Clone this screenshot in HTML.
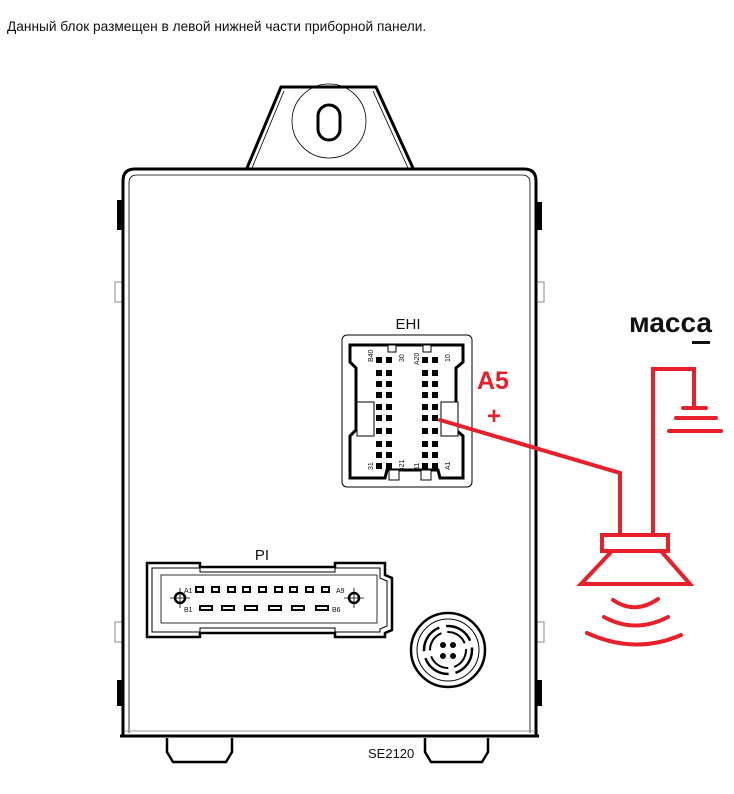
<!DOCTYPE html>
<html><head><meta charset="utf-8"><style>
html,body{margin:0;padding:0;background:#fff;width:734px;height:794px;overflow:hidden}
svg{display:block}
text{font-family:"Liberation Sans",Arial,sans-serif}
</style></head><body>
<svg width="734" height="794" viewBox="0 0 734 794" xmlns="http://www.w3.org/2000/svg">
<text x="7" y="31" font-size="13.7" fill="#111">Данный блок размещен в левой нижней части приборной панели.</text>

<!-- top tab -->
<path d="M247,168 L281,87 L376,87 L413,168" fill="#fff" stroke="#000" stroke-width="3"/>
<path d="M252,168 L284,91 M408,168 L373,91" stroke="#000" stroke-width="0.8" fill="none"/>
<circle cx="329" cy="121" r="37" fill="none" stroke="#000" stroke-width="0.8"/>
<rect x="318" y="105" width="22" height="35" rx="11" fill="none" stroke="#000" stroke-width="3"/>

<!-- side tabs -->
<rect x="117" y="200" width="6" height="30" fill="#000"/>
<rect x="536" y="202" width="6" height="28" fill="#000"/>
<rect x="115" y="282" width="8" height="20" fill="#fff" stroke="#888" stroke-width="1"/>
<rect x="536" y="282" width="8" height="20" fill="#fff" stroke="#888" stroke-width="1"/>
<rect x="115" y="622" width="8" height="20" fill="#fff" stroke="#888" stroke-width="1"/>
<rect x="536" y="622" width="8" height="20" fill="#fff" stroke="#888" stroke-width="1"/>
<rect x="117" y="680" width="6" height="26" fill="#000"/>
<rect x="536" y="680" width="6" height="26" fill="#000"/>

<!-- main body -->
<path d="M123,736 L123,181 Q123,169 135,169 L524,169 Q536,169 536,181 L536,736" fill="#fff" stroke="#000" stroke-width="3"/>
<path d="M129,733 L129,183 Q129,175 137,175 L522,175 Q530,175 530,183 L530,733" fill="none" stroke="#000" stroke-width="0.8"/>
<line x1="120" y1="736" x2="539" y2="736" stroke="#000" stroke-width="3"/>
<line x1="124" y1="731" x2="535" y2="731" stroke="#999" stroke-width="1"/>

<!-- feet -->
<path d="M167,738 L167,752 L173,762 L226,762 L232,752 L232,738" fill="#fff" stroke="#000" stroke-width="2.5"/>
<path d="M425,738 L425,752 L431,762 L482,762 L488,752 L488,738" fill="#fff" stroke="#000" stroke-width="2.5"/>
<text x="368" y="758" font-size="13" fill="#111">SE2120</text>

<!-- EHI connector -->
<text x="408" y="329" font-size="15" text-anchor="middle" fill="#111">EHI</text>
<rect x="342" y="335" width="130" height="152" rx="5" fill="#fff" stroke="#000" stroke-width="1"/>
<path d="M350,345 L463,345 L463,362 L456,368 L456,430 L463,436 L463,478 L440,478 L438,470 L387,470 L385,478 L350,478 L350,436 L356,430 L356,368 L350,362 Z" fill="none" stroke="#000" stroke-width="3"/>
<rect x="388" y="345" width="8" height="7" fill="#fff" stroke="#000" stroke-width="1"/>
<rect x="423" y="345" width="8" height="7" fill="#fff" stroke="#000" stroke-width="1"/>
<rect x="357" y="402" width="17" height="34" fill="#fff" stroke="#000" stroke-width="1"/>
<rect x="441" y="402" width="17" height="34" fill="#fff" stroke="#000" stroke-width="1"/>
<rect x="389" y="470" width="10" height="10" fill="#fff" stroke="#000" stroke-width="1"/>
<rect x="421" y="470" width="10" height="10" fill="#fff" stroke="#000" stroke-width="1"/>
<g fill="#000">
<rect x="376" y="357" width="6" height="6"/><rect x="386" y="357" width="6" height="6"/><rect x="422" y="357" width="6" height="6"/><rect x="432" y="357" width="6" height="6"/>
<rect x="376" y="370" width="6" height="6"/><rect x="386" y="370" width="6" height="6"/><rect x="422" y="370" width="6" height="6"/><rect x="432" y="370" width="6" height="6"/>
<rect x="376" y="381" width="6" height="6"/><rect x="386" y="381" width="6" height="6"/><rect x="422" y="381" width="6" height="6"/><rect x="432" y="381" width="6" height="6"/>
<rect x="376" y="392" width="6" height="6"/><rect x="386" y="392" width="6" height="6"/><rect x="422" y="392" width="6" height="6"/><rect x="432" y="392" width="6" height="6"/>
<rect x="376" y="404" width="6" height="6"/><rect x="386" y="404" width="6" height="6"/><rect x="422" y="404" width="6" height="6"/><rect x="432" y="404" width="6" height="6"/>
<rect x="376" y="415" width="6" height="6"/><rect x="386" y="415" width="6" height="6"/><rect x="422" y="415" width="6" height="6"/><rect x="432" y="415" width="6" height="6"/>
<rect x="376" y="428" width="6" height="6"/><rect x="386" y="428" width="6" height="6"/><rect x="422" y="428" width="6" height="6"/><rect x="432" y="428" width="6" height="6"/>
<rect x="376" y="441" width="6" height="6"/><rect x="386" y="441" width="6" height="6"/><rect x="422" y="441" width="6" height="6"/><rect x="432" y="441" width="6" height="6"/>
<rect x="376" y="452" width="6" height="6"/><rect x="386" y="452" width="6" height="6"/><rect x="422" y="452" width="6" height="6"/><rect x="432" y="452" width="6" height="6"/>
<rect x="376" y="463" width="6" height="6"/><rect x="386" y="463" width="6" height="6"/><rect x="422" y="463" width="6" height="6"/><rect x="432" y="463" width="6" height="6"/>
</g>
<g font-size="7" fill="#111">
<text transform="translate(373,362) rotate(-90)">B40</text>
<text transform="translate(404,362) rotate(-90)">30</text>
<text transform="translate(419,365) rotate(-90)">A20</text>
<text transform="translate(450,362) rotate(-90)">10</text>
<text transform="translate(373,470) rotate(-90)">31</text>
<text transform="translate(404,472) rotate(-90)">B21</text>
<text transform="translate(419,470) rotate(-90)">11</text>
<text transform="translate(450,470) rotate(-90)">A1</text>
</g>

<!-- PI connector -->
<text x="262" y="560" font-size="15" text-anchor="middle" fill="#111">PI</text>
<path d="M147,563 L200,563 L200,567 L335,567 L335,563 L385,563 L385,575 L392,578 L392,630 L385,633 L385,637 L335,637 L335,633 L200,633 L200,637 L147,637 Z" fill="#fff" stroke="#000" stroke-width="2.5"/>
<path d="M152,568 L200,568 L200,572 L335,572 L335,568 L380,568 L380,578 L387,581 L387,626 L380,629 L380,632 L335,632 L335,628 L200,628 L200,632 L152,632 Z" fill="none" stroke="#000" stroke-width="1"/>
<rect x="161" y="575" width="216" height="48" fill="none" stroke="#000" stroke-width="0.8"/>
<g fill="#fff" stroke="#000" stroke-width="2">
<rect x="196" y="587" width="7" height="5"/><rect x="212" y="587" width="7" height="5"/><rect x="228" y="587" width="7" height="5"/><rect x="243" y="587" width="7" height="5"/><rect x="259" y="587" width="7" height="5"/><rect x="275" y="587" width="7" height="5"/><rect x="290" y="587" width="7" height="5"/><rect x="306" y="587" width="7" height="5"/><rect x="322" y="587" width="7" height="5"/>
<rect x="200" y="606" width="12" height="4"/><rect x="222" y="606" width="12" height="4"/><rect x="245" y="606" width="12" height="4"/><rect x="269" y="606" width="12" height="4"/><rect x="292" y="606" width="12" height="4"/><rect x="316" y="606" width="12" height="4"/>
</g>
<circle cx="180" cy="598" r="5" fill="#fff" stroke="#000" stroke-width="2.5"/>
<circle cx="354" cy="598" r="5" fill="#fff" stroke="#000" stroke-width="2.5"/>
<path d="M170,598 L190,598 M180,588 L180,608 M344,598 L364,598 M354,588 L354,608" stroke="#000" stroke-width="0.8"/>
<g font-size="7" fill="#111"><text x="184" y="593">A1</text><text x="336" y="593">A9</text><text x="184" y="612">B1</text><text x="332" y="612">B6</text></g>

<!-- round connector -->
<circle cx="448" cy="650" r="37" fill="#fff" stroke="#000" stroke-width="2.5"/>
<circle cx="448" cy="650" r="31" fill="none" stroke="#000" stroke-width="1"/>
<circle cx="448" cy="650" r="24" fill="none" stroke="#000" stroke-width="2.5" stroke-dasharray="30 7"/>
<circle cx="448" cy="650" r="18" fill="none" stroke="#000" stroke-width="2" stroke-dasharray="22 6"/>
<g fill="#000"><circle cx="443" cy="645" r="3"/><circle cx="453" cy="645" r="3"/><circle cx="443" cy="656" r="3"/><circle cx="453" cy="656" r="3"/></g>

<!-- red annotations -->
<text x="477" y="389" font-size="25" font-weight="bold" fill="#e8202a">A5</text>
<text x="487" y="424" font-size="24" font-weight="bold" fill="#e8202a">+</text>
<g stroke="#e8202a" stroke-width="4" fill="none" stroke-linecap="round">
<path d="M440,420 L620,473 L620,535"/>
<path d="M653,535 L653,369 L694,369 L694,408"/>
<path d="M683,408 L706,408 M676,418 L716,418 M669,431 L721,431"/>
<rect x="602" y="535" width="66" height="16"/>
<path d="M612,551 L581,584 L690,584 L661,551"/>
<path d="M613,600 Q635,615 658,599"/>
<path d="M604,617 Q635,634 668,617"/>
<path d="M587,633 Q635,655 681,635"/>
</g>
<text x="629" y="332" font-size="28" font-weight="bold" fill="#111">масса</text>
<rect x="692" y="341" width="18" height="3" fill="#111"/>
</svg>
</body></html>
